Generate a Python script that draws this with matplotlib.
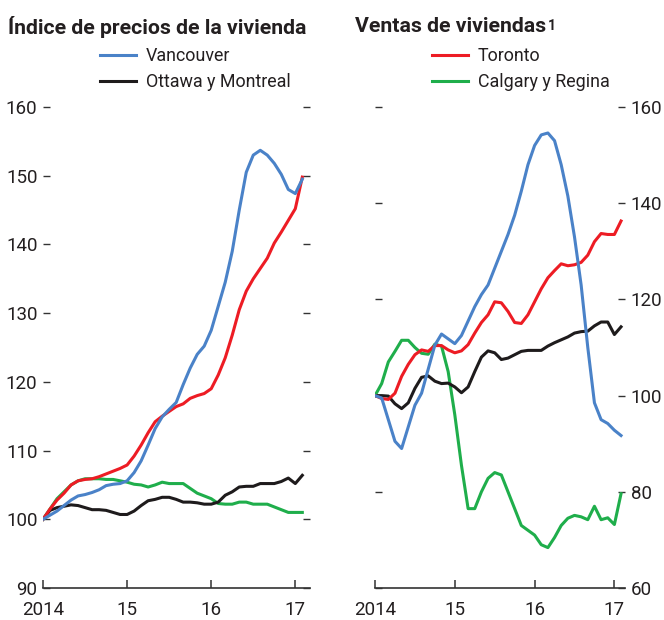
import numpy as np
import matplotlib
matplotlib.use('Agg')
from matplotlib import pyplot as plt

plt.rcParams['font.family'] = ['Roboto', 'DejaVu Sans']

# monthly, Jan 2014 .. Feb 2017
months = np.arange(38)
year_ticks = [0, 12, 24, 36]
year_labels = ['2014', '15', '16', '17']

# house price index
price_vancouver = [100, 100.6, 101.2, 102, 102.8, 103.4, 103.6, 103.9, 104.3, 104.9,
                   105.1, 105.2, 105.6, 106.8, 108.5, 110.8, 113.2, 114.9, 116, 117,
                   119.6, 122, 124, 125.2, 127.5, 131, 134.5, 139, 145, 150.5,
                   153, 153.7, 153, 151.8, 150.2, 148, 147.4, 149.5]
price_toronto = [100, 101.5, 102.8, 103.8, 105, 105.6, 105.8, 105.9, 106.2, 106.6,
                 107, 107.4, 107.9, 109.2, 110.8, 112.6, 114.2, 115, 115.7, 116.4,
                 116.8, 117.6, 118, 118.3, 119, 121, 123.5, 126.8, 130.5, 133.2,
                 135, 136.5, 138, 140.2, 141.8, 143.5, 145.2, 149.8]
price_calgary = [100, 101.5, 103, 104, 105, 105.6, 105.9, 105.9, 105.9, 105.8,
                 105.8, 105.6, 105.4, 105.1, 105.0, 104.7, 105.0, 105.4, 105.2, 105.2,
                 105.2, 104.5, 103.8, 103.4, 103.0, 102.3, 102.2, 102.2, 102.5, 102.5,
                 102.2, 102.2, 102.2, 101.8, 101.4, 101, 101, 101]
price_ottawa = [100, 101.3, 101.7, 101.9, 102.1, 102, 101.7, 101.4, 101.4, 101.3,
                101, 100.7, 100.7, 101.2, 102, 102.7, 102.9, 103.2, 103.2, 102.9,
                102.5, 102.5, 102.4, 102.2, 102.2, 102.5, 103.5, 104, 104.7, 104.8,
                104.8, 105.2, 105.2, 105.2, 105.5, 106, 105.2, 106.4]

# home sales
sales_vancouver = [100, 99.5, 95, 90.5, 89, 93.5, 98, 100.5, 105.5, 110.5,
                   112.8, 111.8, 110.8, 112.5, 115.5, 118.5, 121, 123, 126.5, 130,
                   133.5, 137.5, 142.5, 148, 152, 154.2, 154.6, 153, 148, 141.5,
                   133, 123, 110, 98.5, 95, 94.2, 92.8, 91.7]
sales_toronto = [100, 99.4, 99.2, 100.5, 104, 106.5, 108.5, 109.5, 109.2, 110.4,
                 110.4, 109.5, 108.9, 109.3, 110.6, 113, 115.2, 116.8, 119.5, 119.3,
                 117.5, 115.2, 115, 116.8, 119.5, 122.2, 124.5, 126, 127.4, 127,
                 127.2, 127.7, 129.2, 132, 133.7, 133.5, 133.5, 136.3]
sales_calgary = [100, 102.5, 107, 109.2, 111.5, 111.5, 110, 108.8, 108.6, 110.7,
                 110.3, 105, 96, 85.5, 76.5, 76.5, 80, 82.8, 84, 83.5,
                 80, 76.5, 73, 72, 71, 69, 68.4, 70.5, 73, 74.5,
                 75.1, 74.8, 74.2, 77, 74.2, 74.6, 73.2, 79.6]
sales_ottawa = [100, 100, 99.9, 98.3, 97.3, 98.5, 101.5, 103.8, 104.1, 103,
                102.5, 102.6, 101.8, 100.6, 101.8, 105, 108, 109.3, 108.9, 107.5,
                107.8, 108.5, 109.2, 109.4, 109.4, 109.4, 110.3, 111, 111.6, 112.2,
                113, 113.3, 113.4, 114.5, 115.3, 115.3, 112.7, 114.3]

c_blue = '#4a82c8'
c_red = '#ed1c24'
c_green = '#1fae4b'
c_black = '#1e1b1c'
c_text = '#231f20'
lw = 2.2
fs = 13.5

fig = plt.figure(figsize=(6.64, 6.2), dpi=100)
ax1 = fig.add_axes([0.0648, 0.0516, 0.4021, 0.7758])
ax2 = fig.add_axes([0.5648, 0.0516, 0.3765, 0.7758])


def style_axis(ax):
    for s in ['top', 'left', 'right']:
        ax.spines[s].set_visible(False)
    ax.spines['bottom'].set_linewidth(1.2)
    ax.spines['bottom'].set_color('#333333')
    ax.set_xticks(year_ticks)
    ax.set_xticklabels(year_labels)
    ax.tick_params(axis='x', direction='in', length=6, width=1.1, color='#333333',
                   labelsize=fs, labelcolor=c_text, pad=9)
    ax.tick_params(axis='y', direction='in', length=5, width=1.0, color='#333333',
                   left=True, right=True, labelsize=fs, labelcolor=c_text, pad=4)
    ax.set_facecolor('none')


# left: price index
ax1.plot(months, price_calgary, color=c_green, lw=lw, zorder=2)
ax1.plot(months, price_ottawa, color=c_black, lw=lw, zorder=2)
ax1.plot(months, price_toronto, color=c_red, lw=lw, zorder=3)
ax1.plot(months, price_vancouver, color=c_blue, lw=lw, zorder=3)
ax1.set_xlim(0, 38.1)
ax1.set_ylim(90, 160)
ax1.set_yticks(range(90, 161, 10))
style_axis(ax1)
ax1.tick_params(axis='y', labelleft=True, labelright=False)

# right: sales
ax2.plot(months, sales_calgary, color=c_green, lw=lw, zorder=2)
ax2.plot(months, sales_ottawa, color=c_black, lw=lw, zorder=2)
ax2.plot(months, sales_toronto, color=c_red, lw=lw, zorder=3)
ax2.plot(months, sales_vancouver, color=c_blue, lw=lw, zorder=3)
ax2.set_xlim(0, 37.6)
ax2.set_ylim(60, 160)
ax2.set_yticks(range(60, 161, 20))
style_axis(ax2)
ax2.tick_params(axis='y', labelleft=False, labelright=True)

# titles
fig.text(8 / 664, 1 - 27 / 620, 'Índice de precios de la vivienda', fontsize=15.3,
         fontweight='bold', color=c_text, va='center', ha='left')
t2 = fig.text(355 / 664, 1 - 27 / 620, 'Ventas de viviendas', fontsize=15.3,
              fontweight='bold', color=c_text, va='center', ha='left')

# footnote mark placed right after the title
fig.canvas.draw()
bb = t2.get_window_extent(renderer=fig.canvas.get_renderer())
fig.text((bb.x1 + 1.5) / 664, (bb.y1 - 1) / 620, '1', fontsize=10,
         fontweight='bold', color=c_text, va='top', ha='left')

# legends
h_blue = plt.Line2D([], [], color=c_blue, lw=lw)
h_black = plt.Line2D([], [], color=c_black, lw=lw)
h_red = plt.Line2D([], [], color=c_red, lw=lw)
h_green = plt.Line2D([], [], color=c_green, lw=lw)

leg_kw = dict(frameon=False, fontsize=12.9, borderpad=0, borderaxespad=0,
              handlelength=2.0, handletextpad=0.55, labelspacing=0.45,
              loc='upper left', labelcolor=c_text)
fig.legend([h_blue, h_black], ['Vancouver', 'Ottawa y Montreal'],
           bbox_to_anchor=(100 / 664, 1 - 47 / 620), **leg_kw)
fig.legend([h_red, h_green], ['Toronto', 'Calgary y Regina'],
           bbox_to_anchor=(432 / 664, 1 - 47 / 620), **leg_kw)

fig.savefig('out.png', dpi=100)
